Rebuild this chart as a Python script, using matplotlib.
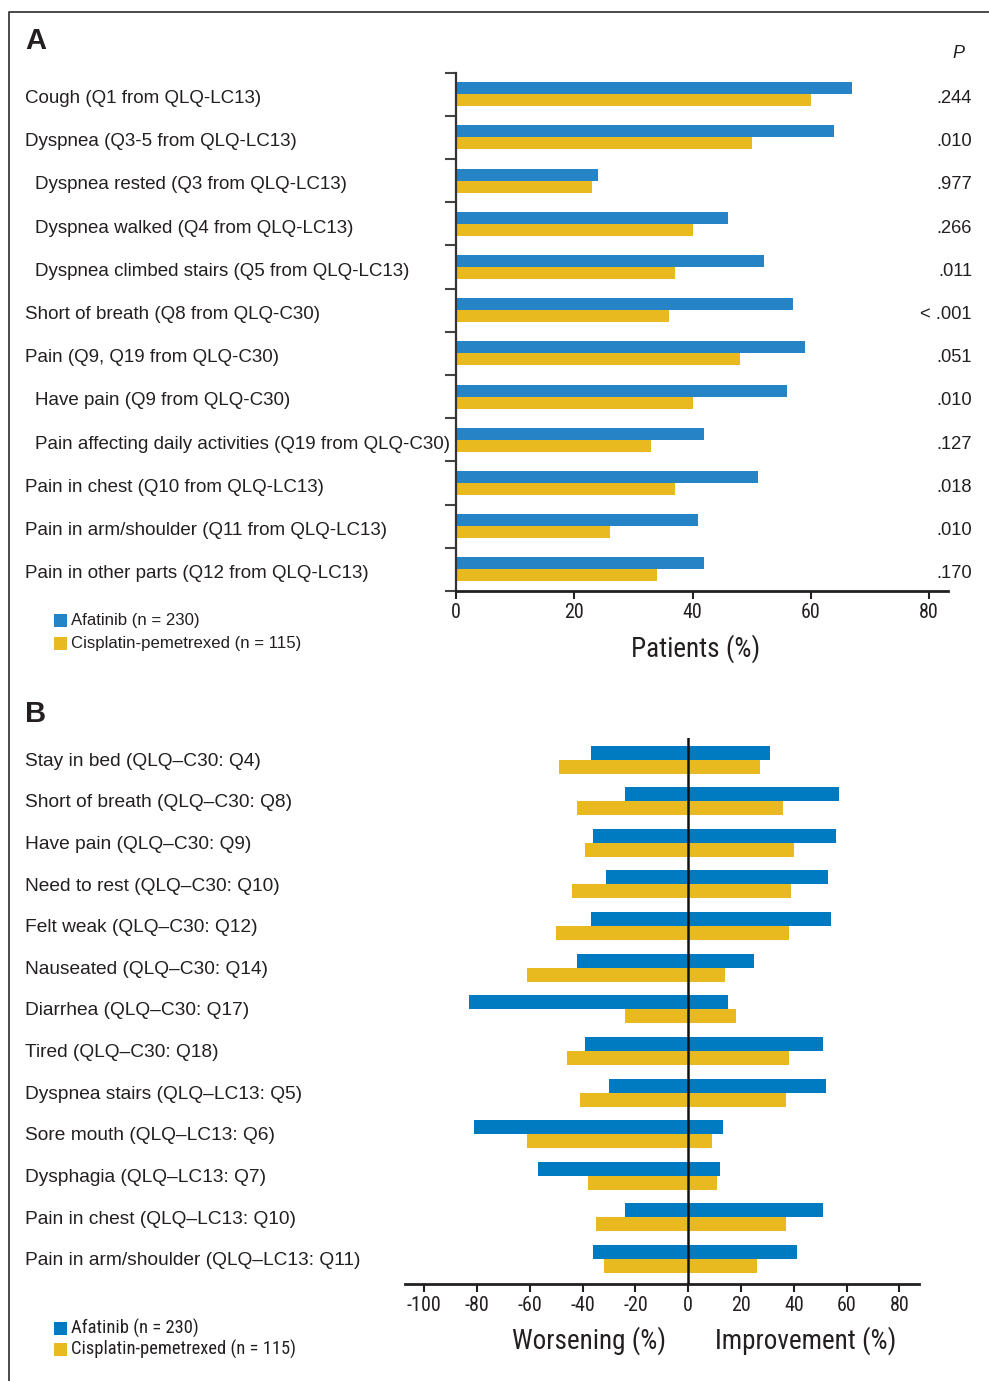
import matplotlib
matplotlib.use("Agg")
import matplotlib.pyplot as plt
from matplotlib import font_manager
from matplotlib.transforms import blended_transform_factory
from matplotlib.lines import Line2D

# ---------------- data ----------------
symptoms_a = [
    "Cough (Q1 from QLQ-LC13)",
    "Dyspnea (Q3-5 from QLQ-LC13)",
    "Dyspnea rested (Q3 from QLQ-LC13)",
    "Dyspnea walked (Q4 from QLQ-LC13)",
    "Dyspnea climbed stairs (Q5 from QLQ-LC13)",
    "Short of breath (Q8 from QLQ-C30)",
    "Pain (Q9, Q19 from QLQ-C30)",
    "Have pain (Q9 from QLQ-C30)",
    "Pain affecting daily activities (Q19 from QLQ-C30)",
    "Pain in chest (Q10 from QLQ-LC13)",
    "Pain in arm/shoulder (Q11 from QLQ-LC13)",
    "Pain in other parts (Q12 from QLQ-LC13)",
]
subitem_a = [False, False, True, True, True, False, False, True, True, False, False, False]
afatinib_a = [67, 64, 24, 46, 52, 57, 59, 56, 42, 51, 41, 42]
cispem_a = [60, 50, 23, 40, 37, 36, 48, 40, 33, 37, 26, 34]
pvalues_a = [".244", ".010", ".977", ".266", ".011", "< .001", ".051", ".010",
             ".127", ".018", ".010", ".170"]

items_b = [
    "Stay in bed (QLQ\u2013C30: Q4)",
    "Short of breath (QLQ\u2013C30: Q8)",
    "Have pain (QLQ\u2013C30: Q9)",
    "Need to rest (QLQ\u2013C30: Q10)",
    "Felt weak (QLQ\u2013C30: Q12)",
    "Nauseated (QLQ\u2013C30: Q14)",
    "Diarrhea (QLQ\u2013C30: Q17)",
    "Tired (QLQ\u2013C30: Q18)",
    "Dyspnea stairs (QLQ\u2013LC13: Q5)",
    "Sore mouth (QLQ\u2013LC13: Q6)",
    "Dysphagia (QLQ\u2013LC13: Q7)",
    "Pain in chest (QLQ\u2013LC13: Q10)",
    "Pain in arm/shoulder (QLQ\u2013LC13: Q11)",
]
afatinib_worse = [37, 24, 36, 31, 37, 42, 83, 39, 30, 81, 57, 24, 36]
afatinib_better = [31, 57, 56, 53, 54, 25, 15, 51, 52, 13, 12, 51, 41]
cispem_worse = [49, 42, 39, 44, 50, 61, 24, 46, 41, 61, 38, 35, 32]
cispem_better = [27, 36, 40, 39, 38, 14, 18, 38, 37, 9, 11, 37, 26]

ticks_a = [0, 20, 40, 60, 80]
ticks_b = [-100, -80, -60, -40, -20, 0, 20, 40, 60, 80]
legend_labels = ["Afatinib (n = 230)", "Cisplatin-pemetrexed (n = 115)"]

# ---------------- styling ----------------
BLUE_A = "#2683c5"
BLUE_B = "#007bc2"
YELLOW = "#e8ba1f"
INK = "#231f20"

W, H = 989, 1381


def fx(px):
    return px / W


def fy(py):
    return 1 - py / H


# pick a narrow face for axis texts when one is installed
_fonts = font_manager.fontManager.ttflist
NARROW = None
for name in ["Liberation Sans Narrow", "Roboto Condensed", "Open Sans Condensed",
             "DejaVu Sans Condensed"]:
    if any(f.name == name for f in _fonts):
        NARROW = dict(family=name)
        break
if NARROW is None:
    if any(f.name == "DejaVu Sans" and f.stretch == "condensed" for f in _fonts):
        NARROW = dict(family="DejaVu Sans", stretch="condensed")
    else:
        NARROW = dict(family="Liberation Sans")

REG = dict(family="Liberation Sans")

fig = plt.figure(figsize=(W / 100, H / 100), dpi=100)

# outer frame (top and left edges)
fig.add_artist(Line2D([fx(9), fx(9), 1.0], [0.0, fy(12), fy(12)],
                      transform=fig.transFigure, color="#3a3a3a", lw=1.3))

# ---------------- panel A ----------------
axA = fig.add_axes([fx(456), fy(591), fx(948) - fx(456), (591 - 72.7) / H])
n_a = len(symptoms_a)
ypos_a = list(range(n_a))
bh_a = 0.278
axA.barh([y - bh_a / 2 for y in ypos_a], afatinib_a, height=bh_a, color=BLUE_A, lw=0)
axA.barh([y + bh_a / 2 for y in ypos_a], cispem_a, height=bh_a, color=YELLOW, lw=0)
axA.set_xlim(0, 83.2)
axA.set_ylim(n_a - 0.5, -0.5)
axA.set_yticks([y - 0.5 for y in range(n_a + 1)])
axA.set_yticklabels([])
axA.set_xticks(ticks_a)
axA.set_xticklabels([str(t) for t in ticks_a], fontsize=14.5, color=INK, **NARROW)
axA.tick_params(axis="y", length=8, width=1.5, color="#444444", direction="out")
axA.tick_params(axis="x", length=6, width=1.5, color=INK, direction="out", pad=3)
for s in ["top", "right"]:
    axA.spines[s].set_visible(False)
axA.spines["left"].set_linewidth(1.6)
axA.spines["left"].set_color("#333333")
axA.spines["bottom"].set_linewidth(2.0)
axA.spines["bottom"].set_color(INK)

trA = blended_transform_factory(fig.transFigure, axA.transData)
for y, lab, sub, p in zip(ypos_a, symptoms_a, subitem_a, pvalues_a):
    axA.text(fx(35 if sub else 25), y + 0.1, lab, transform=trA, ha="left",
             va="center", fontsize=13.5, color=INK, **REG)
    axA.text(fx(972), y + 0.1, p, transform=trA, ha="right", va="center",
             fontsize=13.2, color=INK, **REG)
fig.text(fx(958), fy(54), "P", ha="center", va="center", fontsize=13,
         style="italic", color=INK, **REG)
fig.text(fx(25), fy(41), "A", ha="left", va="center", fontsize=21,
         fontweight="bold", color=INK, **REG)
fig.text(fx(696), fy(649), "Patients (%)", ha="center", va="center",
         fontsize=19.5, color=INK, **NARROW)

# legend A
for i, (lab, col) in enumerate(zip(legend_labels, [BLUE_A, YELLOW])):
    yc = 621 + i * 22.5
    fig.add_artist(plt.Rectangle((fx(54), fy(yc + 6.5)), 12.5 / W, 13 / H,
                                 transform=fig.transFigure, color=col, lw=0))
    fig.text(fx(71), fy(yc), lab, ha="left", va="center", fontsize=12.1,
             color=INK, **REG)

# ---------------- panel B ----------------
axB = fig.add_axes([fx(405), fy(1283.7), fx(919) - fx(405), (1283.7 - 738) / H])
n_b = len(items_b)
ypos_b = list(range(n_b))
bh_b = 0.337
yb_blue = [y - bh_b / 2 for y in ypos_b]
yb_yel = [y + bh_b / 2 for y in ypos_b]
axB.barh(yb_blue, [-v for v in afatinib_worse], height=bh_b, color=BLUE_B, lw=0)
axB.barh(yb_blue, afatinib_better, height=bh_b, color=BLUE_B, lw=0)
axB.barh(yb_yel, [-v for v in cispem_worse], height=bh_b, color=YELLOW, lw=0)
axB.barh(yb_yel, cispem_better, height=bh_b, color=YELLOW, lw=0)
axB.axvline(0, color="#111111", lw=1.8, zorder=5)
axB.set_xlim(-107.3, 87.4)
axB.set_ylim(n_b - 1 + 0.594, -0.52)
axB.set_yticks([])
axB.set_xticks(ticks_b)
axB.set_xticklabels([str(t) for t in ticks_b], fontsize=14.5, color=INK, **NARROW)
axB.tick_params(axis="x", length=6, width=1.5, color=INK, direction="out", pad=3)
for s in ["top", "right", "left"]:
    axB.spines[s].set_visible(False)
axB.spines["bottom"].set_linewidth(2.0)
axB.spines["bottom"].set_color(INK)

trB = blended_transform_factory(fig.transFigure, axB.transData)
for y, lab in zip(ypos_b, items_b):
    axB.text(fx(25), y + 0.04, lab, transform=trB, ha="left", va="center",
             fontsize=13.8, color=INK, **REG)
fig.text(fx(25), fy(714), "B", ha="left", va="center", fontsize=21,
         fontweight="bold", color=INK, **REG)
fig.text(fx(589), fy(1341), "Worsening (%)", ha="center", va="center",
         fontsize=19.5, color=INK, **NARROW)
fig.text(fx(806), fy(1341), "Improvement (%)", ha="center", va="center",
         fontsize=19.5, color=INK, **NARROW)

# legend B
for i, (lab, col) in enumerate(zip(legend_labels, [BLUE_B, YELLOW])):
    yc = 1328 + i * 21
    fig.add_artist(plt.Rectangle((fx(54), fy(yc + 6.5)), 12.5 / W, 13 / H,
                                 transform=fig.transFigure, color=col, lw=0))
    fig.text(fx(71), fy(yc), lab, ha="left", va="center", fontsize=13.3,
             color=INK, **NARROW)

fig.savefig("out.png", dpi=100)
